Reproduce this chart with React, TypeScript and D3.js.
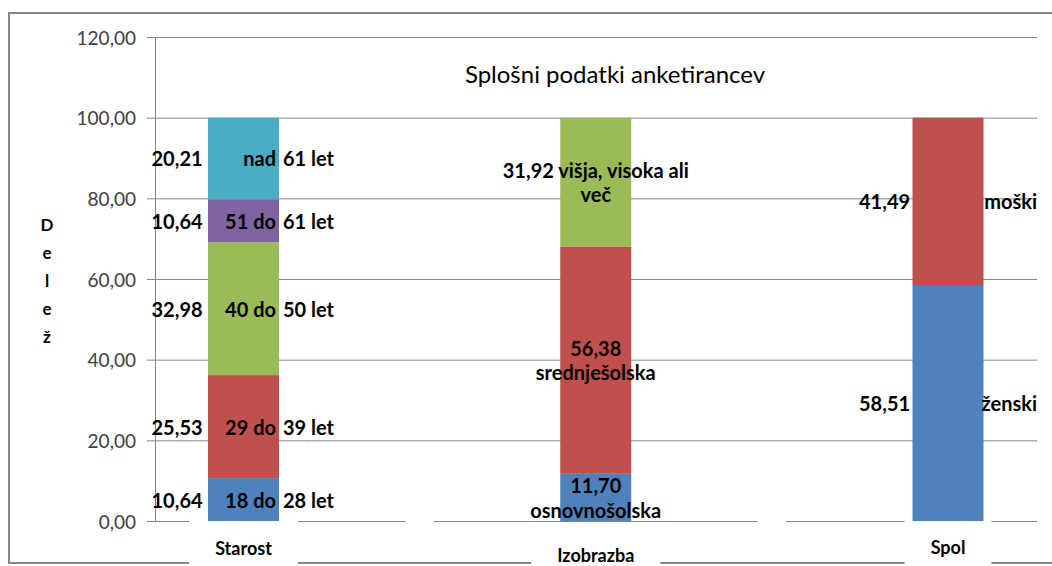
import React, { useEffect, useRef } from 'react';
import * as d3 from 'd3';

// ---------- data ----------
const categories = ['Starost', 'Izobrazba', 'Spol'];
const starostNames = ['18 do 28 let', '29 do 39 let', '40 do 50 let', '51 do 61 let', 'nad 61 let'];
const starostValues = [10.64, 25.53, 32.98, 10.64, 20.21];
const izobrazbaNames = ['osnovnošolska', 'srednješolska', 'višja, visoka ali več'];
const izobrazbaValues = [11.7, 56.38, 31.92];
const izobrazbaWordsOnFirstLine = [1, 1, 4];
const spolNames = ['ženski', 'moški'];
const spolValues = [58.51, 41.49];
const yTicks = [0, 20, 40, 60, 80, 100, 120];
const palette = ['#4F81BD', '#C0504D', '#9BBB59', '#8064A2', '#4BACC6'];
const chartTitle = 'Splošni podatki anketirancev';
const yAxisTitle = 'Delež';

const W = 1052;
const H = 566;
const FONT = 'Lato, "Open Sans", sans-serif';

const fmt = (v: number) => d3.format('.2f')(v).replace('.', ',');

export default function App() {
  const ref = useRef<SVGSVGElement | null>(null);

  useEffect(() => {
    const svg = d3.select(ref.current);
    svg.selectAll('*').remove();

    const y = d3.scaleLinear().domain([0, 120]).range([521, 37]);
    const x = d3.scalePoint<string>().domain(categories).range([243.5, 948]).padding(0);
    const barW = 71;
    const axisX = 155;
    const plotRight = 1037;
    const tickLen = 8;
    const gridColor = '#868686';

    // outer chart border
    svg.append('rect')
      .attr('x', 9).attr('y', 13)
      .attr('width', 1100).attr('height', 550)
      .attr('fill', 'white')
      .attr('stroke', gridColor).attr('stroke-width', 2);

    // gridlines
    svg.append('g').selectAll('line').data(yTicks).join('line')
      .attr('x1', axisX - tickLen).attr('x2', plotRight)
      .attr('y1', (d) => y(d) + 0.5).attr('y2', (d) => y(d) + 0.5)
      .attr('stroke', gridColor).attr('stroke-width', 1);

    // vertical axis
    svg.append('line')
      .attr('x1', axisX + 0.5).attr('x2', axisX + 0.5)
      .attr('y1', y(120)).attr('y2', y(0))
      .attr('stroke', gridColor).attr('stroke-width', 1);

    // tick labels
    svg.append('g').selectAll('text').data(yTicks).join('text')
      .attr('x', 136).attr('y', (d) => y(d))
      .attr('text-anchor', 'end').attr('dominant-baseline', 'central')
      .attr('font-family', FONT).attr('font-size', 19).attr('fill', '#404040')
      .text((d) => fmt(d));

    // gaps on the baseline at band boundaries
    const cats = categories.map((c) => x(c) as number);
    for (let i = 0; i < cats.length - 1; i++) {
      const mid = (cats[i] + cats[i + 1]) / 2;
      svg.append('rect')
        .attr('x', mid - 14).attr('y', y(0) - 2)
        .attr('width', 28).attr('height', 5).attr('fill', 'white');
    }

    // layer for category label background boxes (below bars)
    const boxLayer = svg.append('g');
    const barLayer = svg.append('g');
    const catLayer = svg.append('g');

    // bars
    const groups = [
      { cat: categories[0], names: starostNames, values: starostValues },
      { cat: categories[1], names: izobrazbaNames, values: izobrazbaValues },
      { cat: categories[2], names: spolNames, values: spolValues },
    ];

    const addText = (g: any) =>
      g.append('text')
        .attr('font-family', FONT).attr('font-weight', 700).attr('font-size', 20)
        .attr('fill', '#000').attr('dominant-baseline', 'central');

    groups.forEach((g, gi) => {
      const cx = x(g.cat) as number;
      let acc = 0;
      const segs = g.values.map((v, i) => {
        const s = { y0: acc, y1: acc + v, v, name: g.names[i], i };
        acc += v;
        return s;
      });
      const gg = barLayer.append('g');
      gg.selectAll('rect').data(segs).join('rect')
        .attr('x', cx - barW / 2).attr('width', barW)
        .attr('y', (d) => y(d.y1)).attr('height', (d) => y(d.y0) - y(d.y1))
        .attr('fill', (d) => palette[d.i]);

      segs.forEach((s) => {
        const my = y((s.y0 + s.y1) / 2);
        if (gi === 0) {
          const words = s.name.split(' ');
          const p2 = words.slice(-2).join(' ');
          const p1 = words.slice(0, -2).join(' ');
          addText(gg).attr('text-anchor', 'start').attr('x', cx - 92).attr('y', my).text(fmt(s.v));
          addText(gg).attr('text-anchor', 'end').attr('x', cx + barW / 2 - 3).attr('y', my).text(p1);
          addText(gg).attr('text-anchor', 'start').attr('x', cx + barW / 2 + 4).attr('y', my).text(p2);
        } else if (gi === 1) {
          const words = [fmt(s.v), ...s.name.split(' ')];
          const k = izobrazbaWordsOnFirstLine[s.i];
          const lines = [words.slice(0, k).join(' '), words.slice(k).join(' ')];
          const lh = 24.5;
          const t = addText(gg).attr('text-anchor', 'middle');
          lines.forEach((ln, li) => {
            t.append('tspan').attr('x', cx).attr('y', my + (li - (lines.length - 1) / 2) * lh).text(ln);
          });
        } else {
          addText(gg).attr('text-anchor', 'start').attr('x', cx - 89).attr('y', my).text(fmt(s.v));
          addText(gg).attr('text-anchor', 'end').attr('x', cx + 89).attr('y', my).text(s.name);
        }
      });
    });

    // category labels with white background boxes
    const catY = [548, 555, 547];
    const catBoxTop = [519, 530, 519];
    categories.forEach((c, i) => {
      const cx = x(c) as number;
      const t = catLayer.append('text')
        .attr('x', cx).attr('y', catY[i])
        .attr('text-anchor', 'middle').attr('dominant-baseline', 'central')
        .attr('font-family', FONT).attr('font-weight', 700).attr('font-size', 18)
        .attr('fill', '#000').text(c);
      const tw = (t.node() as SVGTextElement).getComputedTextLength();
      const bw = tw + 52;
      boxLayer.append('rect')
        .attr('x', cx - bw / 2).attr('y', catBoxTop[i])
        .attr('width', bw).attr('height', H - catBoxTop[i])
        .attr('fill', 'white');
    });

    // title
    svg.append('text')
      .attr('x', 615).attr('y', 73)
      .attr('text-anchor', 'middle').attr('dominant-baseline', 'central')
      .attr('font-family', FONT).attr('font-size', 24).attr('fill', '#000')
      .text(chartTitle);

    // y axis title, stacked letters
    const yt = svg.append('text')
      .attr('text-anchor', 'middle')
      .attr('font-family', FONT).attr('font-weight', 700).attr('font-size', 17).attr('fill', '#000');
    yAxisTitle.split('').forEach((ch, i) => {
      yt.append('tspan').attr('x', 47).attr('y', 231 + i * 28).text(ch);
    });
  }, []);

  return (
    <svg
      ref={ref}
      width={W}
      height={H}
      style={{ position: 'absolute', left: 0, top: 0, background: 'white' }}
    />
  );
}
